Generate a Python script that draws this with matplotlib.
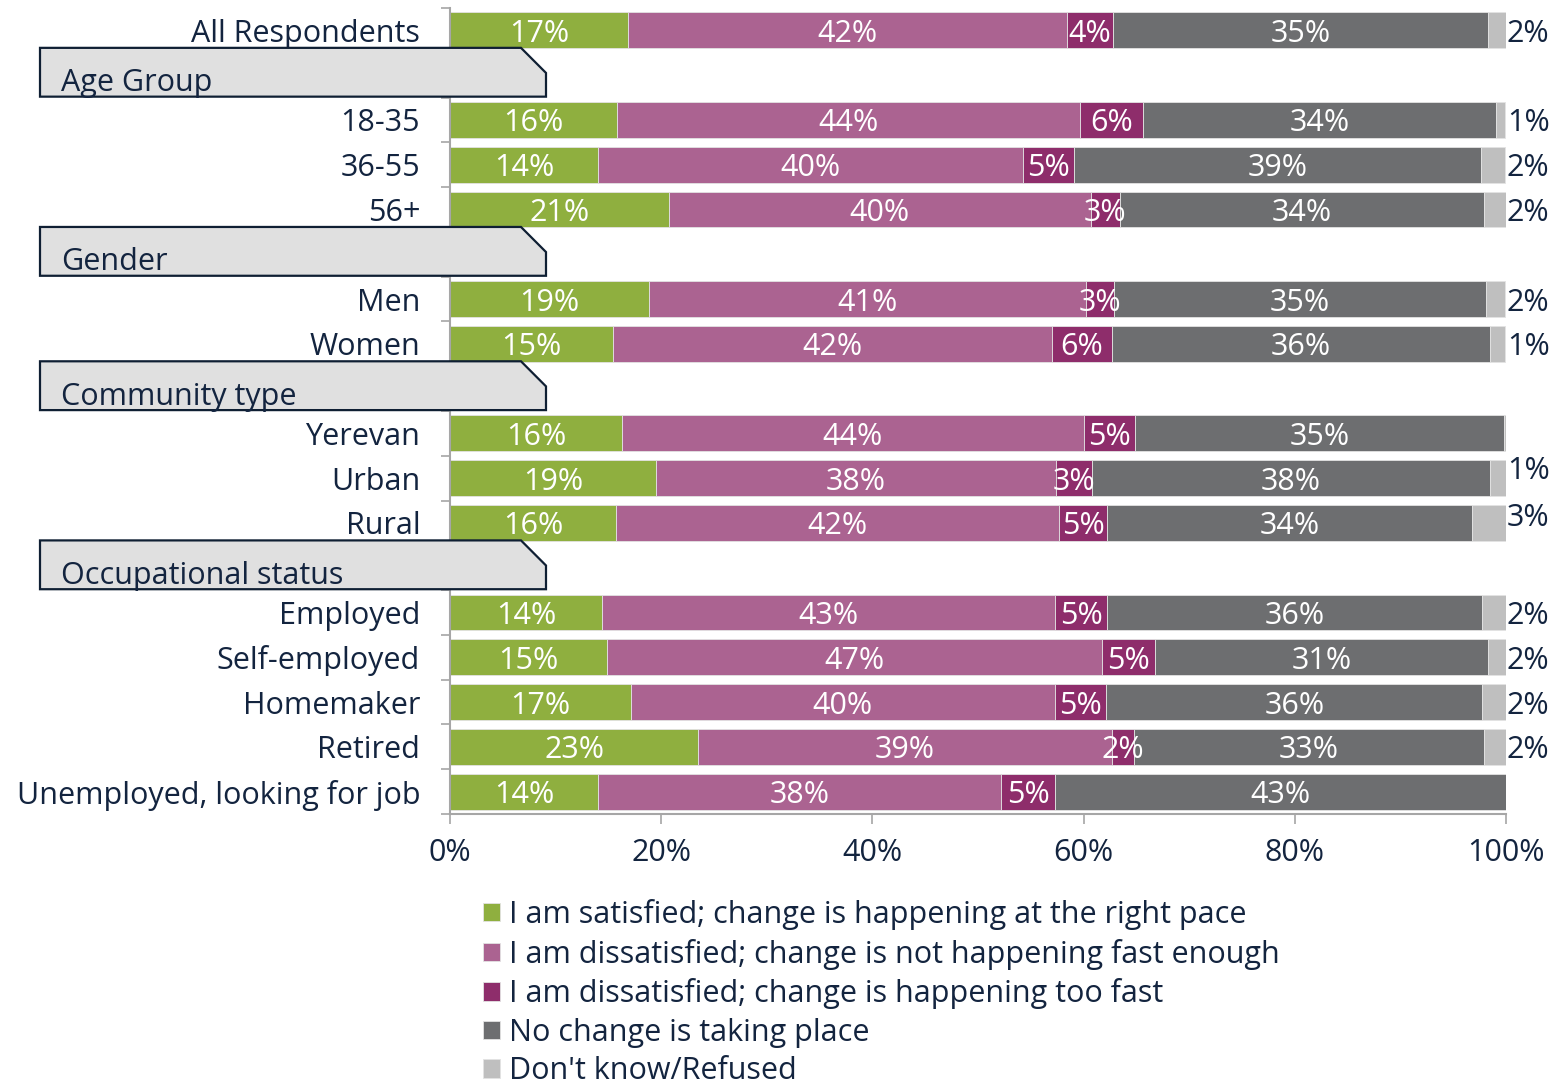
import matplotlib
matplotlib.use("Agg")
import matplotlib.pyplot as plt
import matplotlib.transforms as mtransforms
from matplotlib.patches import Polygon
import numpy as np

nan = np.nan

# rows, top to bottom ("" = group header row)
categories = ["All Respondents", "", "18-35", "36-55", "56+", "", "Men", "Women", "",
              "Yerevan", "Urban", "Rural", "", "Employed", "Self-employed", "Homemaker",
              "Retired", "Unemployed, looking for job"]
header_rows = [1, 5, 8, 12]
header_names = ["Age Group", "Gender", "Community type", "Occupational status"]

series_names = ["I am satisfied; change is happening at the right pace",
                "I am dissatisfied; change is not happening fast enough",
                "I am dissatisfied; change is happening too fast",
                "No change is taking place",
                "Don't know/Refused"]

satisfied = [16.9, nan, 15.8, 14.0, 20.7, nan, 18.8, 15.4, nan, 16.3, 19.5, 15.7, nan,
             14.4, 14.85, 17.1, 23.5, 14.0]
not_fast = [41.5, nan, 43.9, 40.3, 40.0, nan, 41.4, 41.6, nan, 43.7, 37.9, 41.95, nan,
            42.9, 46.9, 40.2, 39.2, 38.2]
too_fast = [4.4, nan, 5.9, 4.8, 2.7, nan, 2.7, 5.7, nan, 4.9, 3.4, 4.6, nan,
            4.9, 5.05, 4.85, 2.1, 5.1]
no_change = [35.5, nan, 33.5, 38.5, 34.5, nan, 35.2, 35.8, nan, 34.9, 37.7, 34.5, nan,
             35.5, 31.5, 35.6, 33.1, 42.7]
dont_know = [1.7, nan, 0.8, 2.3, 2.2, nan, 1.85, 1.45, nan, 0.2, 1.5, 3.3, nan,
             2.3, 1.7, 2.3, 2.15, 0.0]

sat_lbl = ["17%", "", "16%", "14%", "21%", "", "19%", "15%", "", "16%", "19%", "16%", "",
           "14%", "15%", "17%", "23%", "14%"]
nf_lbl = ["42%", "", "44%", "40%", "40%", "", "41%", "42%", "", "44%", "38%", "42%", "",
          "43%", "47%", "40%", "39%", "38%"]
tf_lbl = ["4%", "", "6%", "5%", "3%", "", "3%", "6%", "", "5%", "3%", "5%", "",
          "5%", "5%", "5%", "2%", "5%"]
nc_lbl = ["35%", "", "34%", "39%", "34%", "", "35%", "36%", "", "35%", "38%", "34%", "",
          "36%", "31%", "36%", "33%", "43%"]
dk_lbl = ["2%", "", "1%", "2%", "2%", "", "2%", "1%", "", "", "1%", "3%", "",
          "2%", "2%", "2%", "2%", ""]

colors = ["#8FAF3F", "#AB6391", "#8E2D6B", "#6D6E70", "#BFBFBF"]
navy = "#13243F"
axis_grey = "#A6A6A6"

plt.rcParams['font.family'] = ['Open Sans', 'DejaVu Sans']
fs = 22

fig = plt.figure(figsize=(15.58, 10.84), dpi=100)
W, H = 1558, 1084
ax = fig.add_axes([450 / W, 1 - 814 / H, 1056 / W, 806 / H])

y = np.arange(len(categories))
series = [satisfied, not_fast, too_fast, no_change, dont_know]
labels = [sat_lbl, nf_lbl, tf_lbl, nc_lbl, dk_lbl]
left = np.zeros(len(categories))
handles = []
for vals, col, lbls, name in zip(series, colors, labels, series_names):
    v = np.nan_to_num(np.array(vals, dtype=float))
    b = ax.barh(y, v, left=left, height=0.8, color=col, edgecolor="#E3E3E3",
                linewidth=0.6, label=name)
    handles.append(b)
    if lbls is not dk_lbl:
        for yi, (l, w, t) in enumerate(zip(left, v, lbls)):
            if t:
                ax.text(l + w / 2, yi, t, ha="center", va="center_baseline",
                        color="white", fontsize=fs)
    left = left + v

# don't know labels outside the bar
dk_raise = {"Urban": 8, "Rural": 6}
for yi, t in enumerate(dk_lbl):
    if t:
        ax.annotate(t, (100, yi), xytext=(0.5, dk_raise.get(categories[yi], 0)),
                    textcoords="offset points", ha="left", va="center_baseline",
                    color=navy, fontsize=fs, annotation_clip=False)

ax.set_xlim(0, 100)
ax.set_ylim(len(categories) - 0.5, -0.5)
ax.set_xticks(np.arange(0, 101, 20))
ax.set_xticklabels([f"{t}%" for t in range(0, 101, 20)])
ax.set_yticks(y)
ax.set_yticklabels(categories, va="center_baseline")
ax.set_yticks(np.arange(-0.5, len(categories), 1), minor=True)
ax.tick_params(axis="y", which="major", length=0, pad=21.5, labelsize=fs, labelcolor=navy)
ax.tick_params(axis="y", which="minor", length=6.5, width=1.2, color=axis_grey)
ax.tick_params(axis="x", length=7, width=1.2, color=axis_grey, pad=10,
               labelsize=fs, labelcolor=navy)
for s in ["top", "right"]:
    ax.spines[s].set_visible(False)
for s in ["left", "bottom"]:
    ax.spines[s].set_color(axis_grey)
    ax.spines[s].set_linewidth(1.5)

# group header boxes
tr = mtransforms.blended_transform_factory(fig.transFigure, ax.transData)
x0, x1, cut = 40 / W, 546 / W, 25 / W
for r, name in zip(header_rows, header_names):
    top, bot = r - 0.61, r + 0.48
    pts = [(x0, bot), (x0, top), (x1 - cut, top), (x1, top + 0.56), (x1, bot)]
    ax.add_patch(Polygon(pts, closed=True, transform=tr, facecolor="#E0E0E0",
                         edgecolor="#0F1F33", linewidth=1.6, clip_on=False, zorder=5))
    ax.text(61 / W, r + 0.36, name, transform=tr, ha="left", va="baseline",
            fontsize=fs, color=navy, zorder=6)

fig.legend(handles=handles, loc="upper left", bbox_to_anchor=(483 / W, 1 - 899 / H),
           frameon=False, fontsize=fs, labelcolor=navy, handlelength=0.55,
           handleheight=0.55, handletextpad=0.3, labelspacing=0.28, borderpad=0,
           borderaxespad=0)

fig.savefig("out.png", dpi=100)
